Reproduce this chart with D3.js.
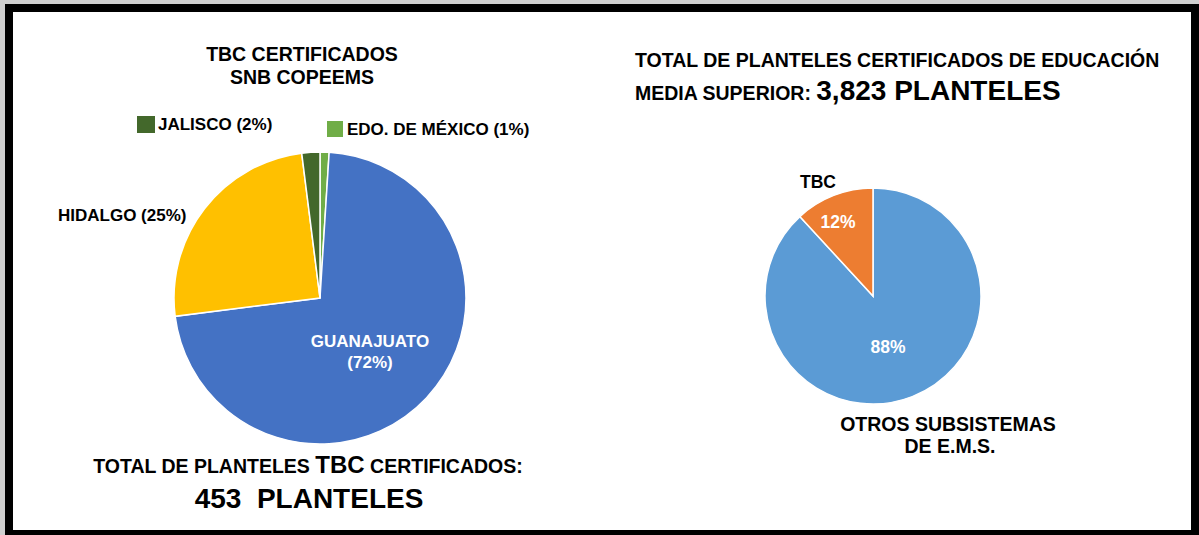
<!DOCTYPE html>
<html>
<head>
<meta charset="utf-8">
<script src="https://cdn.jsdelivr.net/npm/d3@7"></script>
<style>
  body { margin: 0; background: #fff; }
  svg text { font-family: Arial, "Liberation Sans", sans-serif; font-weight: bold; }
</style>
</head>
<body>
<div id="chart"></div>
<script>
// left pie: planteles TBC certificados por estado (alphabetical order, as in the sheet)
var states = ["EDO. DE MÉXICO", "GUANAJUATO", "HIDALGO", "JALISCO"];
var statePct = [1, 72, 25, 2];
var stateColors = ["#70AD47", "#4472C4", "#FFC000", "#43682B"];

// right pie: planteles certificados de EMS
var groups = ["OTROS SUBSISTEMAS DE E.M.S.", "TBC"];
var groupVals = [3370, 453];
var groupColors = ["#5B9BD5", "#ED7D31"];

var W = 1199, H = 535;

var svg = d3.select("#chart").append("svg")
  .attr("width", W)
  .attr("height", H);

// frame
svg.append("rect").attr("width", W).attr("height", H).attr("fill", "#cfcfcf");
svg.append("rect").attr("x", 5).attr("y", 4).attr("width", W - 5).attr("height", H - 4).attr("fill", "#000");
svg.append("rect").attr("x", 13).attr("y", 12).attr("width", 1178).attr("height", 518).attr("fill", "#fff");

var pie = d3.pie().sort(null).value(function (d) { return d; });

// ---------- left pie ----------
var r1 = 146;
var g1 = svg.append("g").attr("transform", "translate(320,298)");
var arc1 = d3.arc().innerRadius(0).outerRadius(r1);

g1.selectAll("path")
  .data(pie(statePct))
  .enter()
  .append("path")
  .attr("d", arc1)
  .attr("fill", function (d, i) { return stateColors[i]; })
  .attr("stroke", "#fff")
  .attr("stroke-width", 1.5);

function txt(sel, x, y, s, size, fill, anchor) {
  return sel.append("text")
    .attr("x", x).attr("y", y)
    .attr("font-size", size)
    .attr("fill", fill || "#000")
    .attr("text-anchor", anchor || "start")
    .text(s);
}

txt(svg, 302, 61, "TBC CERTIFICADOS", 19.5, "#000", "middle");
txt(svg, 302, 84, "SNB COPEEMS", 19.5, "#000", "middle");

// labels
svg.append("rect").attr("x", 137).attr("y", 116).attr("width", 18).attr("height", 17).attr("fill", stateColors[3]);
txt(svg, 158, 130, states[3] + " (" + statePct[3] + "%)", 17);
svg.append("rect").attr("x", 327).attr("y", 121).attr("width", 16).attr("height", 16).attr("fill", stateColors[0]);
txt(svg, 347, 135, states[0] + " (" + statePct[0] + "%)", 17);
txt(svg, 58, 221, states[2] + " (" + statePct[2] + "%)", 17);
txt(svg, 370, 347, states[1], 17, "#fff", "middle");
txt(svg, 370, 368, "(" + statePct[1] + "%)", 17, "#fff", "middle");

var t1 = svg.append("text").attr("x", 308).attr("y", 473).attr("text-anchor", "middle").attr("font-size", 19.5);
t1.append("tspan").text("TOTAL DE PLANTELES ");
t1.append("tspan").attr("font-size", 24).text("TBC");
t1.append("tspan").text(" CERTIFICADOS:");
svg.append("text").attr("x", 309).attr("y", 508).attr("text-anchor", "middle")
  .attr("font-size", 28).attr("xml:space", "preserve")
  .text(d3.sum(groupVals.slice(1)) + "  PLANTELES");

// ---------- right pie ----------
var r2 = 108;
var g2 = svg.append("g").attr("transform", "translate(873,296)");
var arc2 = d3.arc().innerRadius(0).outerRadius(r2);
var total = d3.sum(groupVals);

g2.selectAll("path")
  .data(pie(groupVals))
  .enter()
  .append("path")
  .attr("d", arc2)
  .attr("fill", function (d, i) { return groupColors[i]; })
  .attr("stroke", "#fff")
  .attr("stroke-width", 1.5);

var pct = groupVals.map(function (v) { return Math.round(v / total * 100) + "%"; });

txt(svg, 635, 67, "TOTAL DE PLANTELES CERTIFICADOS DE EDUCACIÓN", 19.5);
var t2 = svg.append("text").attr("x", 635).attr("y", 100).attr("font-size", 19.5);
t2.append("tspan").text("MEDIA SUPERIOR: ");
t2.append("tspan").attr("font-size", 28).text(d3.format(",")(total) + " PLANTELES");

txt(svg, 818, 188, groups[1], 17.5, "#000", "middle");
txt(svg, 838, 228, pct[1], 17.5, "#fff", "middle");
txt(svg, 888, 353, pct[0], 17.5, "#fff", "middle");
txt(svg, 948, 431, "OTROS SUBSISTEMAS", 19.5, "#000", "middle");
txt(svg, 950, 453, "DE E.M.S.", 19.5, "#000", "middle");
</script>
</body>
</html>
